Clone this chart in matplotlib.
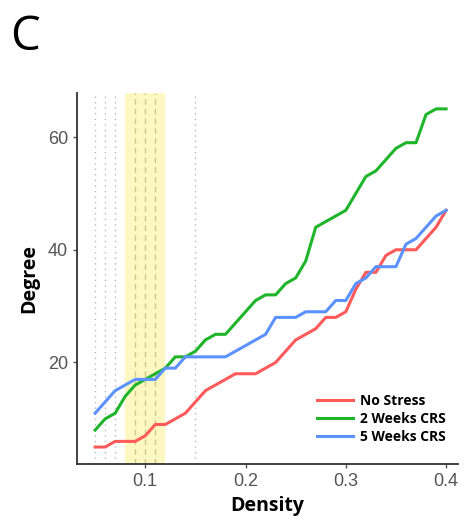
import matplotlib
matplotlib.use('Agg')
import matplotlib.pyplot as plt

density = [0.05, 0.06, 0.07, 0.08, 0.09, 0.10, 0.11, 0.12, 0.13, 0.14,
           0.15, 0.16, 0.17, 0.18, 0.19, 0.20, 0.21, 0.22, 0.23, 0.24,
           0.25, 0.26, 0.27, 0.28, 0.29, 0.30, 0.31, 0.32, 0.33, 0.34,
           0.35, 0.36, 0.37, 0.38, 0.39, 0.40]
no_stress = [5, 5, 6, 6, 6, 7, 9, 9, 10, 11,
             13, 15, 16, 17, 18, 18, 18, 19, 20, 22,
             24, 25, 26, 28, 28, 29, 33, 36, 36, 39,
             40, 40, 40, 42, 44, 47]
crs_2w = [8, 10, 11, 14, 16, 17, 18, 19, 21, 21,
          22, 24, 25, 25, 27, 29, 31, 32, 32, 34,
          35, 38, 44, 45, 46, 47, 50, 53, 54, 56,
          58, 59, 59, 64, 65, 65]
crs_5w = [11, 13, 15, 16, 17, 17, 17, 19, 19, 21,
          21, 21, 21, 21, 22, 23, 24, 25, 28, 28,
          28, 29, 29, 29, 31, 31, 34, 35, 37, 37,
          37, 41, 42, 44, 46, 47]

dotted_x = [0.05, 0.06, 0.07, 0.15]
dashed_x = [0.09, 0.10, 0.11]
band = (0.08, 0.12)

fig = plt.figure(figsize=(4.67, 5.26), dpi=100)
ax = fig.add_axes([0.165, 0.118, 0.816, 0.705])

ax.axvspan(band[0], band[1], color='#fdf8c2', zorder=0, lw=0)
for x in dotted_x:
    ax.axvline(x, color='#b8b8b8', ls=(0, (1, 3)), lw=1, zorder=1)
for x in dashed_x:
    ax.axvline(x, color='#cfc68a', ls=(0, (4, 3)), lw=1, zorder=1)

ax.plot(density, no_stress, color='#ff5a5a', lw=2.2, label='No Stress', zorder=3)
ax.plot(density, crs_2w, color='#1fb52a', lw=2.2, label='2 Weeks CRS', zorder=3)
ax.plot(density, crs_5w, color='#5b92ff', lw=2.2, label='5 Weeks CRS', zorder=3)

ax.set_xlim(0.032, 0.412)
ax.set_ylim(2, 67.8)
ax.set_xticks([0.1, 0.2, 0.3, 0.4])
ax.set_xticklabels(['0.1', '0.2', '0.3', '0.4'])
ax.set_yticks([20, 40, 60])

for s in ['top', 'right']:
    ax.spines[s].set_visible(False)
for s in ['left', 'bottom']:
    ax.spines[s].set_color('#333333')
    ax.spines[s].set_linewidth(1.3)
ax.tick_params(colors='#555555', labelsize=13, length=3, width=1)
for lbl in ax.get_xticklabels() + ax.get_yticklabels():
    lbl.set_family('Liberation Sans')

ax.set_xlabel('Density', fontsize=14, fontweight='bold', family='Open Sans', labelpad=4)
ax.set_ylabel('Degree', fontsize=14, fontweight='bold', family='Open Sans', labelpad=6)

leg = ax.legend(loc='lower right', bbox_to_anchor=(1.0, 0.02), frameon=False,
                prop={'family': 'Open Sans', 'weight': 'bold', 'size': 10},
                handlelength=2.6, handletextpad=0.5, labelspacing=0.3)

fig.text(0.022, 0.905, 'C', fontsize=34, family='Open Sans', va='baseline')

fig.savefig('out.png', dpi=100)
